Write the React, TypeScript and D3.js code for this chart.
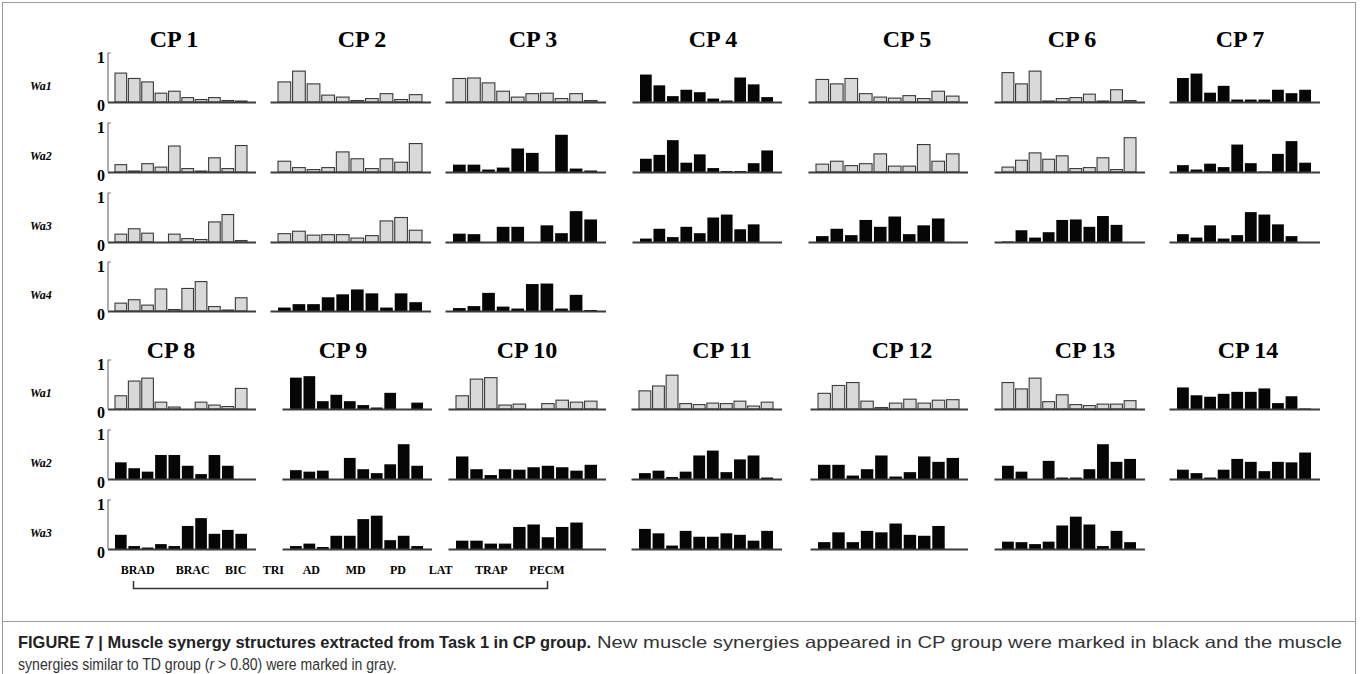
import React from "react";
import * as d3 from "d3";

// muscles (x categories) and panel names
const muscles = ["BRAD", "BRAC", "BIC", "TRI", "AD", "MD", "PD", "LAT", "TRAP", "PECM"];
const cpNames = ["CP 1", "CP 2", "CP 3", "CP 4", "CP 5", "CP 6", "CP 7",
  "CP 8", "CP 9", "CP 10", "CP 11", "CP 12", "CP 13", "CP 14"];
const synergyNames = ["Wa1", "Wa2", "Wa3", "Wa4"];

// synergy weights per CP subject, one array per synergy (Wa1, Wa2, ...)
const cp1 = [
  [0.59, 0.48, 0.41, 0.18, 0.22, 0.09, 0.05, 0.09, 0.03, 0.02],
  [0.15, 0.02, 0.17, 0.10, 0.53, 0.07, 0.02, 0.29, 0.07, 0.54],
  [0.16, 0.27, 0.18, 0, 0.16, 0.07, 0.05, 0.41, 0.56, 0.03],
  [0.16, 0.23, 0.12, 0.45, 0.03, 0.46, 0.60, 0.09, 0.02, 0.27],
];
const cp2 = [
  [0.41, 0.63, 0.37, 0.14, 0.10, 0.03, 0.07, 0.17, 0.05, 0.15],
  [0.22, 0.09, 0.05, 0.09, 0.41, 0.27, 0.07, 0.27, 0.20, 0.58],
  [0.17, 0.22, 0.14, 0.15, 0.15, 0.08, 0.13, 0.43, 0.50, 0.24],
  [0.07, 0.14, 0.14, 0.28, 0.34, 0.44, 0.36, 0.07, 0.36, 0.18],
];
const cp3 = [
  [0.48, 0.49, 0.39, 0.22, 0.10, 0.17, 0.18, 0.07, 0.17, 0.03],
  [0.15, 0.15, 0.05, 0.09, 0.48, 0.39, 0, 0.76, 0.07, 0.03],
  [0.17, 0.16, 0, 0.31, 0.31, 0, 0.34, 0.18, 0.63, 0.46],
  [0.06, 0.10, 0.37, 0.09, 0.05, 0.55, 0.56, 0.05, 0.33, 0.02],
];
const cp4 = [
  [0.56, 0.34, 0.12, 0.25, 0.20, 0.07, 0.03, 0.50, 0.36, 0.10],
  [0.27, 0.35, 0.65, 0.19, 0.36, 0.08, 0.02, 0.02, 0.18, 0.44],
  [0.07, 0.27, 0.10, 0.31, 0.18, 0.50, 0.56, 0.26, 0.36, 0],
];
const cp5 = [
  [0.46, 0.37, 0.48, 0.17, 0.10, 0.08, 0.13, 0.07, 0.22, 0.12],
  [0.16, 0.22, 0.13, 0.17, 0.37, 0.12, 0.12, 0.56, 0.22, 0.37],
  [0.12, 0.27, 0.14, 0.45, 0.31, 0.52, 0.16, 0.34, 0.48, 0],
];
const cp6 = [
  [0.60, 0.37, 0.63, 0.02, 0.07, 0.09, 0.16, 0.02, 0.25, 0.03],
  [0.10, 0.24, 0.39, 0.26, 0.33, 0.07, 0.09, 0.29, 0.05, 0.70],
  [0.01, 0.24, 0.09, 0.20, 0.45, 0.46, 0.31, 0.53, 0.35, 0],
];
const cp7 = [
  [0.49, 0.58, 0.19, 0.33, 0.05, 0.05, 0.05, 0.25, 0.18, 0.25],
  [0.14, 0.05, 0.17, 0.10, 0.56, 0.18, 0.01, 0.37, 0.63, 0.19],
  [0.16, 0.09, 0.34, 0.07, 0.14, 0.61, 0.56, 0.36, 0.12, 0],
];
const cp8 = [
  [0.27, 0.57, 0.63, 0.14, 0.04, 0, 0.14, 0.08, 0.05, 0.42],
  [0.34, 0.22, 0.15, 0.49, 0.49, 0.27, 0.10, 0.49, 0.27, 0],
  [0.29, 0.06, 0.03, 0.10, 0.06, 0.47, 0.63, 0.31, 0.39, 0.31],
];
const cp9 = [
  [0.64, 0.67, 0.16, 0.29, 0.16, 0.08, 0.03, 0.33, 0, 0.13],
  [0.18, 0.15, 0.17, 0, 0.43, 0.20, 0.12, 0.30, 0.71, 0.27],
  [0.06, 0.11, 0.04, 0.27, 0.27, 0.61, 0.68, 0.18, 0.27, 0.06],
];
const cp10 = [
  [0.27, 0.61, 0.64, 0.08, 0.10, 0, 0.11, 0.18, 0.14, 0.16],
  [0.46, 0.20, 0.08, 0.20, 0.19, 0.24, 0.27, 0.24, 0.17, 0.29],
  [0.17, 0.17, 0.11, 0.11, 0.45, 0.50, 0.24, 0.45, 0.54, 0],
];
const cp11 = [
  [0.37, 0.47, 0.69, 0.11, 0.09, 0.12, 0.11, 0.16, 0.06, 0.14],
  [0.12, 0.17, 0.04, 0.15, 0.48, 0.58, 0.14, 0.40, 0.48, 0.03],
  [0.41, 0.32, 0.07, 0.37, 0.25, 0.25, 0.32, 0.29, 0.17, 0.37],
];
const cp12 = [
  [0.32, 0.48, 0.54, 0.16, 0.03, 0.12, 0.20, 0.12, 0.18, 0.19],
  [0.29, 0.29, 0.07, 0.20, 0.48, 0.05, 0.14, 0.46, 0.35, 0.43],
  [0.14, 0.34, 0.14, 0.37, 0.34, 0.52, 0.29, 0.27, 0.47, 0],
];
const cp13 = [
  [0.54, 0.41, 0.63, 0.15, 0.29, 0.09, 0.07, 0.10, 0.10, 0.17],
  [0.27, 0.15, 0, 0.37, 0.03, 0.03, 0.20, 0.71, 0.35, 0.41],
  [0.15, 0.14, 0.10, 0.15, 0.48, 0.66, 0.50, 0.06, 0.37, 0.14],
];
const cp14 = [
  [0.44, 0.28, 0.25, 0.31, 0.35, 0.35, 0.42, 0.12, 0.26, 0.01],
  [0.19, 0.12, 0.03, 0.19, 0.41, 0.35, 0.16, 0.35, 0.34, 0.54],
];

// true = similar to TD (gray), false = new synergy (black)
const cpSimilar = [
  [true, true, true, true],
  [true, true, true, false],
  [true, false, false, false],
  [false, false, false],
  [true, true, false],
  [true, true, false],
  [false, false, false],
  [true, false, false],
  [false, false, false],
  [true, false, false],
  [true, false, false],
  [true, false, false],
  [true, false, false],
  [false, false],
];

const cpWeights = [cp1, cp2, cp3, cp4, cp5, cp6, cp7, cp8, cp9, cp10, cp11, cp12, cp13, cp14];

// layout
const W = 1360;
const H = 674;
const UNIT = 49; // px for weight 1
const blocks = [
  {
    first: 0,
    rows: [102, 172, 242, 311],
    titleY: 47,
    titleX: [174, 362, 533, 713, 907, 1072, 1240],
    cols: [[115, 247], [278, 422], [453, 597], [640, 773], [816, 959], [1002, 1136], [1177, 1311]],
  },
  {
    first: 7,
    rows: [409, 479, 549],
    titleY: 358,
    titleX: [171, 343, 527, 722, 902, 1085, 1248],
    cols: [[115, 247], [290, 423], [456, 597], [639, 773], [818, 959], [1002, 1136], [1177, 1311]],
  },
];
const muscleLabelX = [120.7, 175.7, 225, 262.7, 302.7, 345.7, 390, 428.7, 475, 529.3];

const serif = "'Liberation Serif', 'Times New Roman', serif";
const narrow = "'Liberation Sans Narrow', 'Arial Narrow', 'Liberation Sans', Arial, sans-serif";

function Panel({ values, similar, x0, x1, base, withAxis }) {
  const x = d3.scaleBand().domain(muscles).range([x0, x1]).paddingInner(0.13).paddingOuter(0);
  const y = d3.scaleLinear().domain([0, 1]).range([base, base - UNIT]);
  const lineStart = withAxis ? 108 : x0 - 7.5;
  return (
    <g>
      {values.map((v, i) =>
        v > 0 ? (
          <rect
            key={i}
            x={x(muscles[i])}
            y={y(v)}
            width={x.bandwidth()}
            height={y(0) - y(v)}
            fill={similar ? "#d9d9d9" : "#060606"}
            stroke={similar ? "#3a3a3a" : "none"}
            strokeWidth={1.1}
          />
        ) : null
      )}
      <line x1={lineStart} x2={x1 + 9} y1={base + 0.5} y2={base + 0.5} stroke="#3c3c3c" strokeWidth={2} />
      {withAxis && (
        <g>
          <path d={`M111,${y(1)}H108V${base}`} fill="none" stroke="#777" strokeWidth={1.2} />
          <text x={101} y={y(1) + 9.5} textAnchor="middle" fontFamily={serif} fontWeight="bold" fontSize={16}>1</text>
          <text x={101} y={base + 8.5} textAnchor="middle" fontFamily={serif} fontWeight="bold" fontSize={16}>0</text>
        </g>
      )}
    </g>
  );
}

export default function App() {
  return (
    <svg width={W} height={H} style={{ position: "absolute", left: 0, top: 0, background: "#fff" }}>
      <rect x={2.5} y={2.5} width={1353} height={H + 10} fill="none" stroke="#9a9a9a" strokeWidth={1} />
      <line x1={2.5} x2={1355.5} y1={621.5} y2={621.5} stroke="#9a9a9a" strokeWidth={1} />

      {blocks.map((b, bi) => (
        <g key={bi}>
          {b.titleX.map((tx, c) => (
            <text key={"t" + c} x={tx} y={b.titleY} textAnchor="middle" fontFamily={serif} fontWeight="bold" fontSize={24}>
              {cpNames[b.first + c]}
            </text>
          ))}
          {b.rows.map((base, r) => (
            <text key={"r" + r} x={30} y={base - 12} fontFamily={serif} fontWeight="bold" fontStyle="italic" fontSize={12}>
              {synergyNames[r]}
            </text>
          ))}
          {b.cols.map(([x0, x1], c) => {
            const cp = b.first + c;
            return cpWeights[cp].map((vals, r) => (
              <Panel
                key={c + "-" + r}
                values={vals}
                similar={cpSimilar[cp][r]}
                x0={x0}
                x1={x1}
                base={b.rows[r]}
                withAxis={c === 0}
              />
            ));
          })}
        </g>
      ))}

      {muscles.map((m, i) => (
        <text key={m} x={muscleLabelX[i]} y={574} fontFamily={serif} fontWeight="bold" fontSize={12}>{m}</text>
      ))}
      <path d="M133.5,581V588.5H547.5V581" fill="none" stroke="#333" strokeWidth={1.5} />

      <text x={18} y={648} fontFamily={narrow} fontWeight="bold" fontSize={16.5} fill="#222"
        textLength={573} lengthAdjust="spacingAndGlyphs">
        FIGURE 7 | Muscle synergy structures extracted from Task 1 in CP group.
      </text>
      <text x={597} y={648} fontFamily={narrow} fontSize={16.5} fill="#333"
        textLength={745} lengthAdjust="spacingAndGlyphs">
        New muscle synergies appeared in CP group were marked in black and the muscle
      </text>
      <text transform="translate(18,670) scale(0.854,1)" fontFamily={narrow} fontSize={16.5} fill="#333">
        synergies similar to TD group (<tspan fontStyle="italic">r</tspan> &gt; 0.80) were marked in gray.
      </text>
    </svg>
  );
}
